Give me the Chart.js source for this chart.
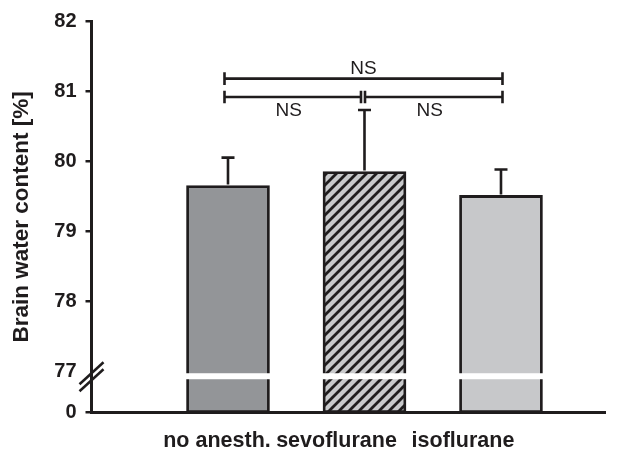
<!DOCTYPE html>
<html><head><meta charset="utf-8">
<script src="https://cdn.jsdelivr.net/npm/chart.js@4"></script>
<style>html,body{margin:0;padding:0;background:#fff}</style>
</head><body>
<canvas id="c" width="635" height="452"></canvas>
<script>
// ---- data ----
const categories = ['no anesth.', 'sevoflurane', 'isoflurane'];
const means = [79.65, 79.85, 79.51];
const errors = [0.40, 0.88, 0.37];
const yTickValues = [0, 77, 78, 79, 80, 81, 82];
const comparisons = [[0, 1], [1, 2], [0, 2]];
const comparisonLabels = ['NS', 'NS', 'NS'];
const comparisonLevels = [80.916, 80.916, 81.178];
const breakValue = 77;

// ---- broken-axis mapping (0..77 compressed) ----
const BREAK_SPAN = 0.592;
function toDisplay(v) {
  return v >= breakValue ? v - breakValue : -BREAK_SPAN + v * BREAK_SPAN / breakValue;
}

const INK = '#1f1c1d';
const FONT = '"Liberation Sans", Arial, sans-serif';

// hatch pattern
function makeHatch() {
  const s = 10, cv = document.createElement('canvas');
  cv.width = s; cv.height = s;
  const g = cv.getContext('2d');
  g.fillStyle = '#c8c9cb'; g.fillRect(0, 0, s, s);
  g.strokeStyle = INK; g.lineWidth = 2.8; g.lineCap = 'square';
  g.beginPath();
  g.moveTo(0, s); g.lineTo(s, 0);
  g.moveTo(-2, 2); g.lineTo(2, -2);
  g.moveTo(s - 2, s + 2); g.lineTo(s + 2, s - 2);
  g.stroke();
  return g.createPattern(cv, 'repeat');
}
const barFills = ['#939598', makeHatch(), '#c7c8ca'];

// style-only nudges (pixels)
const bracketNudges = [[-3.5, -3.5], [0.5, 1.5], [-3.5, 1.5]];
const xLabelShift = [-11, -28, -38];

const errorBarPlugin = {
  id: 'errorBars',
  afterDatasetsDraw(chart) {
    const ctx = chart.ctx, ys = chart.scales.y;
    const meta = chart.getDatasetMeta(0);
    ctx.save();
    ctx.strokeStyle = INK; ctx.lineWidth = 2.6;
    meta.data.forEach((bar, i) => {
      const yb = ys.getPixelForValue(toDisplay(means[i]));
      const yt = ys.getPixelForValue(toDisplay(means[i] + errors[i]));
      ctx.beginPath();
      ctx.moveTo(bar.x, yb - 1); ctx.lineTo(bar.x, yt);
      ctx.moveTo(bar.x - 6.5, yt); ctx.lineTo(bar.x + 6.5, yt);
      ctx.stroke();
    });
    // break band across bars
    const y0 = ys.getPixelForValue(toDisplay(breakValue));
    ctx.fillStyle = '#ffffff';
    meta.data.forEach(bar => {
      ctx.fillRect(bar.x - bar.width / 2 - 3, y0 + 2, bar.width + 6, 6);
    });
    // axis break slashes
    const xa = chart.chartArea.left;
    ctx.strokeStyle = INK; ctx.lineWidth = 2.5;
    [y0 + 2, y0 + 9].forEach(cy => {
      ctx.beginPath();
      ctx.moveTo(xa - 12, cy + 11); ctx.lineTo(xa + 12, cy - 11);
      ctx.stroke();
    });
    ctx.restore();
  }
};

const bracketPlugin = {
  id: 'brackets',
  afterDatasetsDraw(chart) {
    const ctx = chart.ctx, xs = chart.scales.x, ys = chart.scales.y;
    ctx.save();
    ctx.strokeStyle = INK; ctx.lineWidth = 2.6;
    ctx.fillStyle = INK;
    ctx.font = '19px ' + FONT;
    ctx.textAlign = 'center'; ctx.textBaseline = 'middle';
    comparisons.forEach((c, i) => {
      const x1 = xs.getPixelForValue(c[0]) + bracketNudges[i][0];
      const x2 = xs.getPixelForValue(c[1]) + bracketNudges[i][1];
      const y = ys.getPixelForValue(toDisplay(comparisonLevels[i]));
      ctx.beginPath();
      ctx.moveTo(x1, y); ctx.lineTo(x2, y);
      ctx.moveTo(x1, y - 6.3); ctx.lineTo(x1, y + 6.3);
      ctx.moveTo(x2, y - 6.3); ctx.lineTo(x2, y + 6.3);
      ctx.stroke();
      const above = (c[1] - c[0]) > 1;
      ctx.fillText(comparisonLabels[i], (x1 + x2) / 2 - (above ? 0 : 4), above ? y - 10 : y + 14);
    });
    ctx.restore();
  }
};

const xLabelPlugin = {
  id: 'xLabels',
  afterDraw(chart) {
    const ctx = chart.ctx, xs = chart.scales.x;
    ctx.save();
    ctx.fillStyle = INK;
    ctx.font = 'bold 21.5px ' + FONT;
    ctx.textAlign = 'center'; ctx.textBaseline = 'middle';
    categories.forEach((lab, i) => {
      ctx.fillText(lab, xs.getPixelForValue(i) + xLabelShift[i], 441);
    });
    ctx.restore();
  }
};

new Chart(document.getElementById('c'), {
  type: 'bar',
  data: {
    datasets: [{
      data: means.map((m, i) => ({ x: i, y: [toDisplay(0), toDisplay(m)] })),
      backgroundColor: barFills,
      borderColor: INK,
      borderWidth: 2.8,
      borderSkipped: false,
      barThickness: 83
    }]
  },
  options: {
    responsive: false,
    animation: false,
    devicePixelRatio: 1,
    layout: { padding: { top: 20.7, right: 30, bottom: 0, left: 0 } },
    plugins: { legend: { display: false }, tooltip: { enabled: false } },
    scales: {
      x: {
        type: 'linear',
        offset: false,
        min: -1.0, max: 2.762,
        grid: { display: false, offset: false },
        ticks: { display: false },
        border: { display: true, color: INK, width: 3 },
        afterFit(s) { s.height = 39.3; }
      },
      y: {
        type: 'linear',
        position: 'left',
        min: -BREAK_SPAN, max: 5,
        afterBuildTicks(s) { s.ticks = yTickValues.map(v => ({ value: toDisplay(v) })); },
        afterFit(s) { s.width = 91.5; },
        ticks: {
          color: INK,
          font: { family: FONT, size: 20, weight: 'bold' },
          padding: 9,
          callback: (v, i) => String(yTickValues[i])
        },
        grid: {
          drawOnChartArea: false,
          drawTicks: true,
          tickLength: 6,
          lineWidth: 2.5,
          color: (ctx) => (ctx.tick && ctx.tick.value === 0) ? 'rgba(0,0,0,0)' : INK
        },
        border: { display: true, color: INK, width: 3 },
        title: {
          display: true,
          text: 'Brain water content [%]',
          color: INK,
          font: { family: FONT, size: 22.5, weight: 'bold' },
          padding: { top: 8, bottom: 0 }
        }
      }
    }
  },
  plugins: [errorBarPlugin, bracketPlugin, xLabelPlugin]
});
</script>
</body></html>
